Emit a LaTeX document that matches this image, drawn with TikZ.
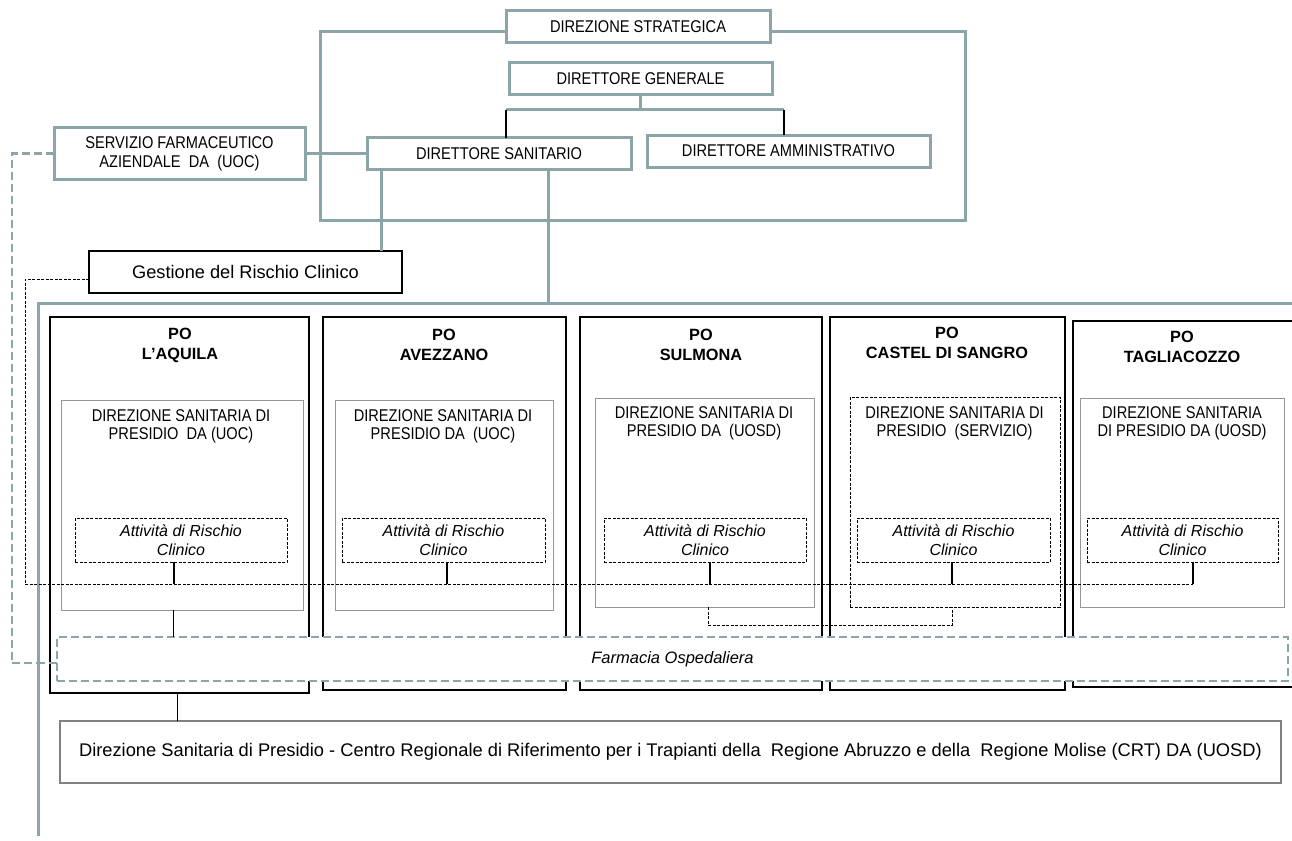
\documentclass[tikz,border=0pt]{standalone}
\usepackage{fontspec}
\setmainfont{Liberation Sans}
\newfontfamily\narrowsans{Liberation Sans}[FakeStretch=0.86]
\definecolor{tealgray}{RGB}{139,165,168}
\definecolor{boxgray}{RGB}{150,150,150}
\tikzset{
	tealstyle/.style={rectangle,draw=tealgray,line width=3pt,fill=white,inner sep=0pt,outer sep=0pt,align=center,font=\narrowsans\fontsize{17}{19}\selectfont},
	gestionestyle/.style={rectangle,draw=black,line width=1.6pt,fill=white,inner sep=0pt,outer sep=0pt,font=\fontsize{18.2}{22}\selectfont},
	postyle/.style={rectangle,draw=black,line width=1.6pt,inner sep=0pt,outer sep=0pt},
	titlestyle/.style={align=center,inner sep=0pt,font=\bfseries\fontsize{16.3}{20}\selectfont},
	dirstyle/.style={rectangle,draw=boxgray,line width=1pt,inner sep=0pt,outer sep=0pt},
	dirdashstyle/.style={rectangle,draw=black,line width=1pt,dash pattern=on 3pt off 1.5pt,inner sep=0pt,outer sep=0pt},
	dirtextstyle/.style={align=center,inner sep=0pt,font=\narrowsans\fontsize{17}{18}\selectfont},
	riskstyle/.style={rectangle,draw=black,line width=1pt,dash pattern=on 3pt off 1.5pt,fill=white,inner sep=0pt,outer sep=0pt,align=center,font=\itshape\fontsize{16}{19}\selectfont},
	pharmstyle/.style={rectangle,draw=tealgray,line width=2.5pt,dash pattern=on 8pt off 4pt,fill=white,inner sep=0pt,outer sep=0pt,font=\itshape\fontsize{16.5}{20}\selectfont},
	crtstyle/.style={rectangle,draw=gray,line width=1.2pt,inner sep=0pt,outer sep=0pt,font=\fontsize{18.3}{22}\selectfont},
	tealline/.style={draw=tealgray,line width=3pt},
	tealdash/.style={draw=tealgray,line width=2.5pt,dash pattern=on 8pt off 4pt},
	blackline/.style={draw=black,line width=2pt},
	thinline/.style={draw=black,line width=1pt},
	dotline/.style={draw=black,line width=1pt,dash pattern=on 3pt off 1.5pt}
}
\begin{document}
\begin{tikzpicture}[x=1pt,y=-1pt]
		\clip (0,0) rectangle (1292,840);
		\node[tealstyle,minimum width=264,minimum height=32] (strat) at (638,27) {DIREZIONE STRATEGICA};
		\node[tealstyle,minimum width=263,minimum height=32] (dg) at (640.5,79) {DIRETTORE GENERALE};
		\node[tealstyle,minimum width=264,minimum height=32] (ds) at (499,153.5) {DIRETTORE SANITARIO};
		\node[tealstyle,minimum width=283,minimum height=32] (da) at (788.5,151) {DIRETTORE AMMINISTRATIVO};
		\node[tealstyle,minimum width=251,minimum height=52] (sfa) at (179.5,153.5) {SERVIZIO FARMACEUTICO\\AZIENDALE~ DA~ (UOC)};
		\node[gestionestyle,minimum width=313,minimum height=42] (gest) at (245.5,272) {Gestione del Rischio Clinico};
		\node[postyle,minimum width=259,minimum height=376] (poaq) at (179.5,505) {};
		\node[postyle,minimum width=243,minimum height=373] (poav) at (444.5,503.5) {};
		\node[postyle,minimum width=242,minimum height=373] (posu) at (701,503.5) {};
		\node[postyle,minimum width=235,minimum height=373] (pocs) at (947.5,503.5) {};
		\node[postyle,minimum width=221,minimum height=366] (pota) at (1183.5,504) {};
		\node[titlestyle] (tiaq) at (180,345) {PO\\L'AQUILA};
		\node[titlestyle] (tiav) at (444,345) {PO\\AVEZZANO};
		\node[titlestyle] (tisu) at (701,345) {PO\\SULMONA};
		\node[titlestyle] (tics) at (947,343) {PO\\CASTEL DI SANGRO};
		\node[titlestyle] (tita) at (1182,347) {PO\\TAGLIACOZZO};
		\node[dirstyle,minimum width=242,minimum height=210] (dpaq) at (182,505) {};
		\node[dirstyle,minimum width=218,minimum height=210] (dpav) at (444,505) {};
		\node[dirstyle,minimum width=219,minimum height=209] (dpsu) at (704.5,502.5) {};
		\node[dirdashstyle,minimum width=210,minimum height=210] (dpcs) at (955,502) {};
		\node[dirstyle,minimum width=204,minimum height=209] (dpta) at (1182,502.5) {};
		\node[dirtextstyle] (dtaq) at (181,426) {DIREZIONE SANITARIA DI\\PRESIDIO~ DA (UOC)};
		\node[dirtextstyle] (dtav) at (443,426) {DIREZIONE SANITARIA DI\\PRESIDIO DA~ (UOC)};
		\node[dirtextstyle] (dtsu) at (704,423) {DIREZIONE SANITARIA DI\\PRESIDIO DA~ (UOSD)};
		\node[dirtextstyle] (dtcs) at (954.5,423) {DIREZIONE SANITARIA DI\\PRESIDIO~ (SERVIZIO)};
		\node[dirtextstyle] (dtta) at (1182,423) {DIREZIONE SANITARIA\\DI PRESIDIO DA (UOSD)};
		\node[riskstyle,minimum width=212,minimum height=44] (rcaq) at (181,540) {Attività di Rischio\\Clinico};
		\node[riskstyle,minimum width=203,minimum height=44] (rcav) at (443.5,540) {Attività di Rischio\\Clinico};
		\node[riskstyle,minimum width=202,minimum height=44] (rcsu) at (705,540) {Attività di Rischio\\Clinico};
		\node[riskstyle,minimum width=193,minimum height=44] (rccs) at (953.5,540) {Attività di Rischio\\Clinico};
		\node[riskstyle,minimum width=191,minimum height=44] (rcta) at (1182.5,540) {Attività di Rischio\\Clinico};
		\node[pharmstyle,minimum width=1231,minimum height=44] (farm) at (672.5,659) {Farmacia Ospedaliera};
		\node[crtstyle,minimum width=1221,minimum height=62] (crt) at (670.5,752) {Direzione Sanitaria di Presidio - Centro Regionale di Riferimento per i Trapianti della~ Regione Abruzzo e della~ Regione Molise (CRT) DA (UOSD)};
		\coordinate (fbl) at (320,220);
		\coordinate (fbr) at (965,220);
		\coordinate (jl) at (506,110);
		\coordinate (jr) at (784,110);
		\coordinate (dsg) at (381,0);
		\coordinate (dsb) at (548,0);
		\coordinate (busl) at (38,303);
		\coordinate (busr) at (1300,303);
		\coordinate (busb) at (38,836);
		\coordinate (sfax) at (12,400);
		\coordinate (gx) at (25,584);
		\coordinate (t1) at (174,584);
		\coordinate (t2) at (447,584);
		\coordinate (t3) at (710,584);
		\coordinate (t4) at (952,584);
		\coordinate (t5) at (1193,584);
		\coordinate (sc1) at (708,625);
		\coordinate (sc2) at (952,625);
		\coordinate (fa) at (173,0);
		\coordinate (ca) at (177,0);
		\draw[tealline] ([yshift=-5pt]strat.west) -| (fbl) -- (fbr) |- ([yshift=-5pt]strat.east);
		\draw[tealline] (dg.south) -- (dg.south |- jl);
		\draw[tealline] (jl) -- (jr);
		\draw[blackline] (jl) -- (jl |- ds.north);
		\draw[blackline] (jr) -- (jr |- da.north);
		\draw[tealline] (sfa.east) -- (ds.west);
		\draw[tealline] (ds.south -| dsg) -- (gest.north -| dsg);
		\draw[tealline] (ds.south -| dsb) -- (busl -| dsb);
		\draw[tealline] (busr) -- (busl) -- (busb);
		\draw[tealdash] (sfa.west) -| (sfax) |- ([yshift=-4pt]farm.west);
		\draw[dotline] ([yshift=-7pt]gest.west) -| (gx) -- (t5);
		\draw[blackline] (rcaq.south -| t1) -- (t1);
		\draw[blackline] (rcav.south -| t2) -- (t2);
		\draw[blackline] (rcsu.south -| t3) -- (t3);
		\draw[blackline] (rccs.south -| t4) -- (t4);
		\draw[blackline] (rcta.south -| t5) -- (t5);
		\draw[dotline] (dpsu.south -| sc1) -- (sc1) -- (sc2) -- (dpcs.south -| sc2);
		\draw[thinline] (dpaq.south -| fa) -- (farm.north -| fa);
		\draw[thinline] (poaq.south -| ca) -- (crt.north -| ca);
\end{tikzpicture}
\end{document}
